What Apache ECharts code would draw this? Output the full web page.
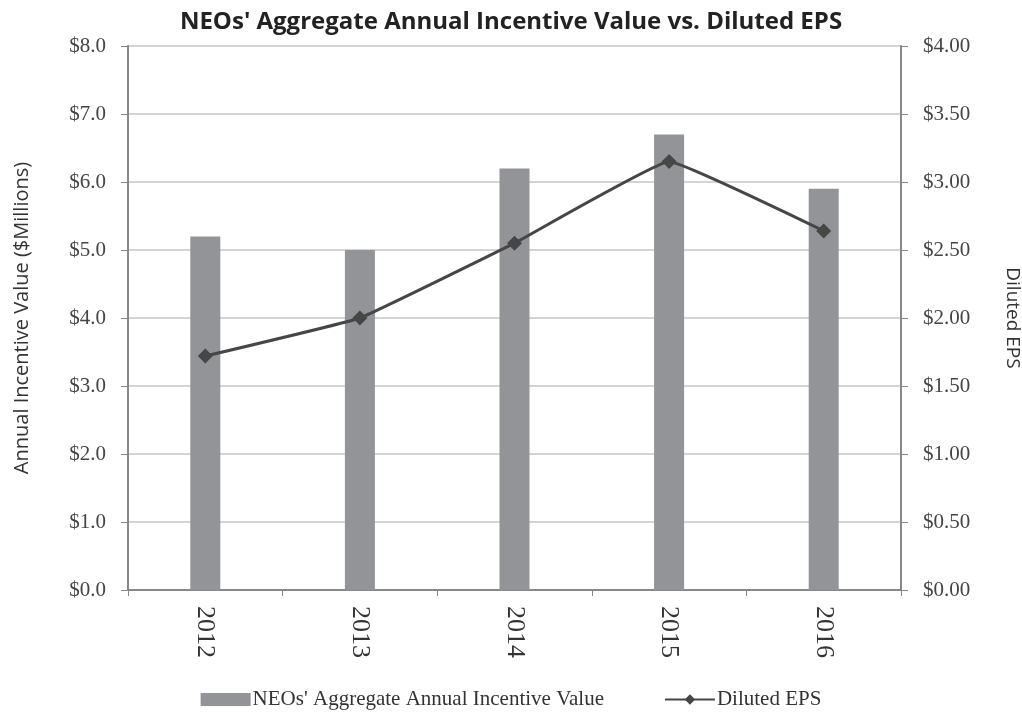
<!DOCTYPE html>
<html>
<head>
<meta charset="utf-8">
<script src="https://cdn.jsdelivr.net/npm/echarts@6/dist/echarts.min.js"></script>
<style>
  html, body { margin: 0; padding: 0; background: #fff; }
  #chart { width: 1022px; height: 712px; }
</style>
</head>
<body>
<div id="chart"></div>
<script>
// chart data
const years = ["2012", "2013", "2014", "2015", "2016"];
const incentiveValue = [5.2, 5.0, 6.2, 6.7, 5.9]; // $ millions
const dilutedEps = [1.72, 2.0, 2.55, 3.15, 2.64];

const serif = "Liberation Serif";
const sans = "Open Sans";

const chart = echarts.init(document.getElementById("chart"));
const option = {
  animation: false,
  backgroundColor: "#fff",
  title: {
    text: "NEOs' Aggregate Annual Incentive Value vs. Diluted EPS",
    left: "center",
    top: 5,
    textStyle: {
      fontFamily: sans,
      fontWeight: "bold",
      fontSize: 24,
      color: "#222",
    },
  },
  legend: {
    bottom: -3,
    left: "center",
    itemWidth: 50,
    itemHeight: 13,
    itemGap: 60,
    textStyle: { fontFamily: serif, fontSize: 21, color: "#333", padding: [0, 0, 0, -3] },
    data: [
      { name: "NEOs' Aggregate Annual Incentive Value", icon: "rect" },
      { name: "Diluted EPS" },
    ],
  },
  grid: {
    left: 128,
    right: 121,
    top: 46,
    bottom: 122,
    containLabel: false,
    outerBoundsMode: "none",
  },
  xAxis: {
    type: "category",
    data: years,
    axisLine: { lineStyle: { color: "#888", width: 2 } },
    axisTick: { show: true, length: 6, lineStyle: { color: "#888" } },
    axisLabel: {
      rotate: -90,
      fontFamily: serif,
      fontSize: 26,
      color: "#333",
      margin: 16,
    },
  },
  yAxis: [
    {
      type: "value",
      min: 0,
      max: 8,
      interval: 1,
      name: "Annual Incentive Value ($Millions)",
      nameLocation: "middle",
      nameGap: 96,
      nameTextStyle: { fontFamily: sans, fontSize: 20, color: "#333" },
      axisLine: { show: true, lineStyle: { color: "#888", width: 2 } },
      axisTick: { show: true, length: 7, lineStyle: { color: "#888" } },
      axisLabel: {
        fontFamily: serif,
        fontSize: 21,
        color: "#444",
        margin: 22,
        formatter: (v) => "$" + v.toFixed(1),
      },
      splitLine: { lineStyle: { color: "#c6c6c6", width: 1.5 } },
    },
    {
      type: "value",
      min: 0,
      max: 4,
      interval: 0.5,
      position: "right",
      name: "Diluted EPS",
      nameLocation: "middle",
      nameGap: 102,
      nameRotate: -90,
      nameTextStyle: { fontFamily: sans, fontSize: 19, color: "#333" },
      axisLine: { show: true, lineStyle: { color: "#888", width: 2 } },
      axisTick: { show: true, length: 7, lineStyle: { color: "#888" } },
      axisLabel: {
        fontFamily: serif,
        fontSize: 21,
        color: "#444",
        margin: 22,
        formatter: (v) => "$" + v.toFixed(2),
      },
      splitLine: { show: false },
    },
  ],
  series: [
    {
      name: "NEOs' Aggregate Annual Incentive Value",
      type: "bar",
      yAxisIndex: 0,
      barWidth: 30,
      data: incentiveValue,
      itemStyle: { color: "#939498" },
    },
    {
      name: "Diluted EPS",
      type: "line",
      yAxisIndex: 1,
      smooth: 0.08,
      data: dilutedEps,
      symbol: "diamond",
      symbolSize: 15,
      lineStyle: { color: "#464646", width: 3 },
      itemStyle: { color: "#464646" },
    },
  ],
};
chart.setOption(option);
</script>
</body>
</html>
